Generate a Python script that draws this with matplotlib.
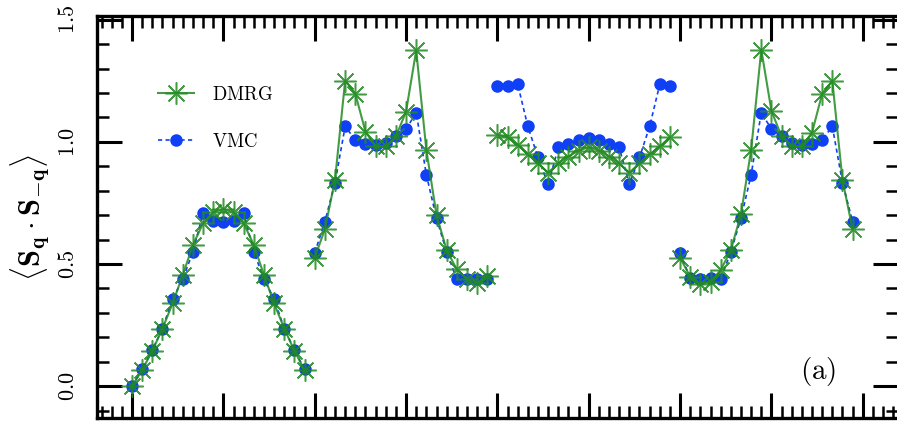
import numpy as np
import matplotlib
matplotlib.use("Agg")
import matplotlib.pyplot as plt
from matplotlib.ticker import FixedLocator, NullFormatter

plt.rcParams["mathtext.fontset"] = "cm"

# Static structure factor along the q-path, four path segments of 18 points each
seg_len = 18
dmrg = [
    0.000, 0.066, 0.145, 0.236, 0.339, 0.455, 0.578, 0.667, 0.712,
    0.725, 0.712, 0.667, 0.578, 0.455, 0.339, 0.236, 0.145, 0.066,
    0.526, 0.642, 0.844, 1.251, 1.197, 1.042, 0.981, 0.981, 1.022,
    1.124, 1.374, 0.967, 0.701, 0.557, 0.478, 0.437, 0.423, 0.451,
    1.029, 1.019, 0.988, 0.949, 0.912, 0.874, 0.912, 0.940, 0.964,
    0.978, 0.964, 0.940, 0.912, 0.874, 0.912, 0.949, 0.981, 1.019,
    0.526, 0.448, 0.418, 0.428, 0.475, 0.557, 0.704, 0.967, 1.377,
    1.127, 1.022, 0.981, 0.981, 1.038, 1.197, 1.250, 0.844, 0.642,
]
vmc = [
    0.000, 0.069, 0.148, 0.236, 0.357, 0.438, 0.550, 0.708, 0.676,
    0.670, 0.676, 0.708, 0.550, 0.438, 0.357, 0.236, 0.148, 0.069,
    0.546, 0.673, 0.833, 1.063, 1.008, 0.992, 0.988, 0.997, 1.022,
    1.052, 1.120, 0.865, 0.687, 0.550, 0.437, 0.440, 0.440, 0.440,
    1.227, 1.229, 1.236, 1.063, 0.936, 0.826, 0.977, 0.991, 1.006,
    1.015, 1.006, 0.991, 0.977, 0.826, 0.936, 1.063, 1.236, 1.227,
    0.546, 0.441, 0.437, 0.441, 0.437, 0.550, 0.687, 0.865, 1.120,
    1.052, 1.022, 0.997, 0.988, 0.992, 1.008, 1.063, 0.833, 0.673,
]
series_labels = [r"$\mathrm{DMRG}$", r"$\mathrm{VMC}$"]
ytick_values = [0.0, 0.5, 1.0, 1.5]
ytick_labels = [r"$0.0$", r"$0.5$", r"$1.0$", r"$1.5$"]

W, H = 897, 422
fig = plt.figure(figsize=(W / 100, H / 100), dpi=100)
x0, x1 = 96.5, 898.3
ytop, ybot = 16, 418
ax = fig.add_axes([x0 / W, 1 - ybot / H, (x1 - x0) / W, (ybot - ytop) / H])

green = "#228b22"
blue = "#1040f5"
x = np.arange(len(dmrg))
d = np.array(dmrg)
v = np.array(vmc)

h_vmc = h_dmrg = None
for s in range(0, len(d), seg_len):
    sl = slice(s, s + seg_len)
    (h_vmc,) = ax.plot(x[sl], v[sl], color=blue, ls=(0, (2.5, 2.0)), lw=1.2,
                       marker="o", ms=8, mec=blue, mfc=blue, zorder=2)
for s in range(0, len(d), seg_len):
    sl = slice(s, s + seg_len)
    (h_dmrg,) = ax.plot(x[sl], d[sl], color=green, ls="-", lw=1.5,
                        marker=(8, 2, 0), ms=16, mew=1.1, mec=green, zorder=3,
                        alpha=0.85)

ax.set_xlim(-3.5, 75.5)
ax.set_ylim(-0.13, 1.515)

ax.xaxis.set_major_locator(FixedLocator(np.arange(0, 73, 9)))
ax.xaxis.set_minor_locator(FixedLocator(np.arange(-3, 76, 1)))
ax.xaxis.set_major_formatter(NullFormatter())
ax.set_yticks(ytick_values)
ax.set_yticklabels(ytick_labels, rotation=90, va="center", fontsize=16)
ax.yaxis.set_minor_locator(FixedLocator(np.round(np.arange(-0.1, 1.51, 0.1), 2)))

ax.tick_params(which="both", direction="in", top=True, right=True)
ax.tick_params(which="major", length=18, width=2.2)
ax.tick_params(which="minor", length=8.5, width=1.8)
ax.tick_params(axis="y", which="major", pad=13)
for sp in ax.spines.values():
    sp.set_linewidth(2.4)

fig.text(30 / W, 1 - 218 / H,
         r"$\langle \mathbf{S_q} \cdot \mathbf{S_{-q}} \rangle$",
         rotation=90, ha="center", va="center", fontsize=22)

fig.text(800 / W, 1 - 372 / H, r"$\mathrm{(a)}$", ha="left", va="center",
         fontsize=21)

leg = ax.legend([h_dmrg, h_vmc], series_labels, frameon=False, fontsize=13.5,
                loc="upper left", bbox_to_anchor=(150 / W, 1 - 77 / H),
                bbox_transform=fig.transFigure, handlelength=1.92,
                handletextpad=0.96, labelspacing=1.5, borderaxespad=0)

fig.savefig("out.png", dpi=100)
